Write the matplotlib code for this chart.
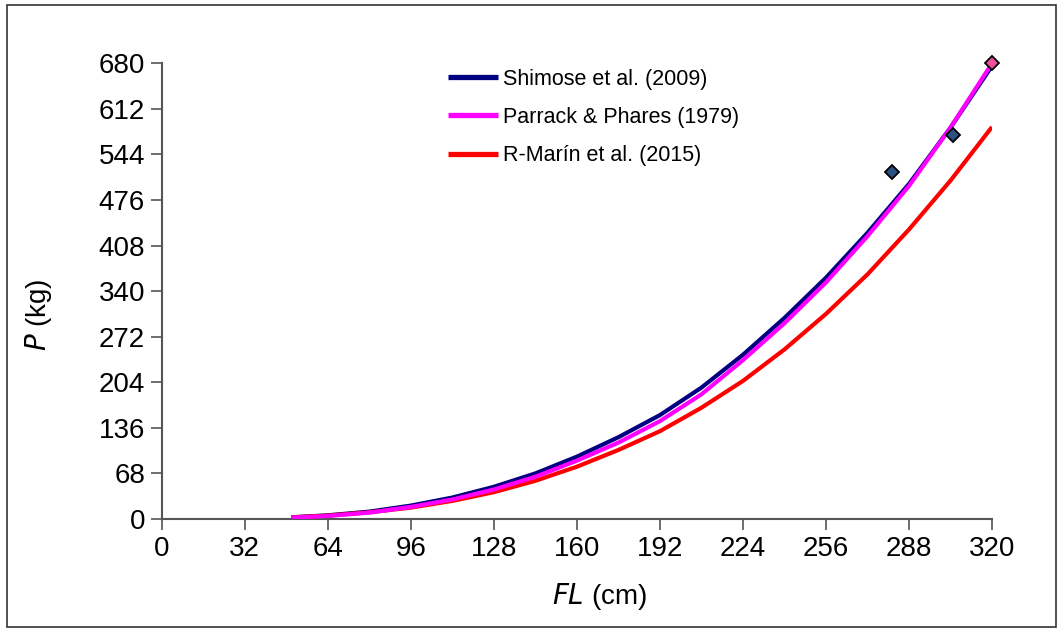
import matplotlib
matplotlib.use("Agg")
import matplotlib.pyplot as plt
from matplotlib.patches import Rectangle

plt.rcParams['font.family'] = ['Liberation Sans', 'DejaVu Sans']

# Fork length (cm) at which curves were read
fl = [50, 64, 80, 96, 112, 128, 144, 160, 176, 192, 208, 224, 240, 256, 272, 288, 304, 320]
shimose = [2.5, 5.5, 11, 20, 32, 48, 68, 93, 122, 155, 196, 245, 300, 360, 427, 500, 584, 676]
parrack = [2, 4.5, 9.5, 18, 29, 44, 63, 87, 114, 146, 186, 237, 292, 353, 422, 497, 584, 680]
rmarin = [2.5, 5, 10, 17, 27, 40, 57, 78, 103, 131, 166, 206, 253, 306, 365, 432, 505, 585]

obs_fl = [281.5, 305]
obs_p = [518, 573]
obs2_fl = [320]
obs2_p = [680]

series_labels = ["Shimose et al. (2009)", "Parrack & Phares (1979)", "R-Marín et al. (2015)"]
xticks = [0, 32, 64, 96, 128, 160, 192, 224, 256, 288, 320]
yticks = [0, 68, 136, 204, 272, 340, 408, 476, 544, 612, 680]

W, H = 1059, 631
fig = plt.figure(figsize=(W / 100, H / 100), dpi=100)
ax = fig.add_axes([161.7 / W, 1 - 519 / H, (992 - 161.7) / W, (519 - 63.3) / H])

ax.plot(fl, shimose, color="#000080", lw=3.0, label=series_labels[0], solid_capstyle='butt', zorder=3)
ax.plot(fl, parrack, color="#FF00FF", lw=3.0, label=series_labels[1], solid_capstyle='butt', zorder=4)
ax.plot(fl, rmarin, color="#FF0000", lw=3.0, label=series_labels[2], solid_capstyle='butt', zorder=3)

ax.plot(obs_fl, obs_p, linestyle='none', marker='D', ms=7, mfc="#2A5384", mec="black", mew=1.3, zorder=5)
ax.plot(obs2_fl, obs2_p, linestyle='none', marker='D', ms=7, mfc="#F0509A", mec="black", mew=1.3, zorder=5, clip_on=False)

ax.set_xlim(0, 320)
ax.set_ylim(0, 680)
ax.set_xticks(xticks)
ax.set_yticks(yticks)
ax.tick_params(axis='both', direction='out', length=8, width=1.2, color="#555555", labelsize=20, pad=4)
for s in ['top', 'right']:
    ax.spines[s].set_visible(False)
for s in ['left', 'bottom']:
    ax.spines[s].set_color("#555555")
    ax.spines[s].set_linewidth(1.5)

fig.text(599 / W, 1 - 597 / H, r"$\it{FL}$ (cm)", ha='center', va='center', fontsize=20)
fig.text(38 / W, 1 - 315 / H, r"$\it{P}$ (kg)", ha='center', va='center', fontsize=20, rotation=90)

leg = ax.legend(loc='upper left', bbox_to_anchor=((439 - 161.7) / (992 - 161.7), 1 - (60 - 63.3) / (519 - 63.3)),
                frameon=False, fontsize=15.5, handlelength=2.35, handletextpad=0.2, labelspacing=0.8,
                borderaxespad=0)
for line in leg.get_lines():
    line.set_linewidth(3.8)

fig.patches.append(Rectangle((7 / W, 4 / H), (1056 - 7) / W, (626 - 4) / H, transform=fig.transFigure,
                             fill=False, edgecolor="#333333", lw=1.2))

fig.savefig("out.png", dpi=100)
